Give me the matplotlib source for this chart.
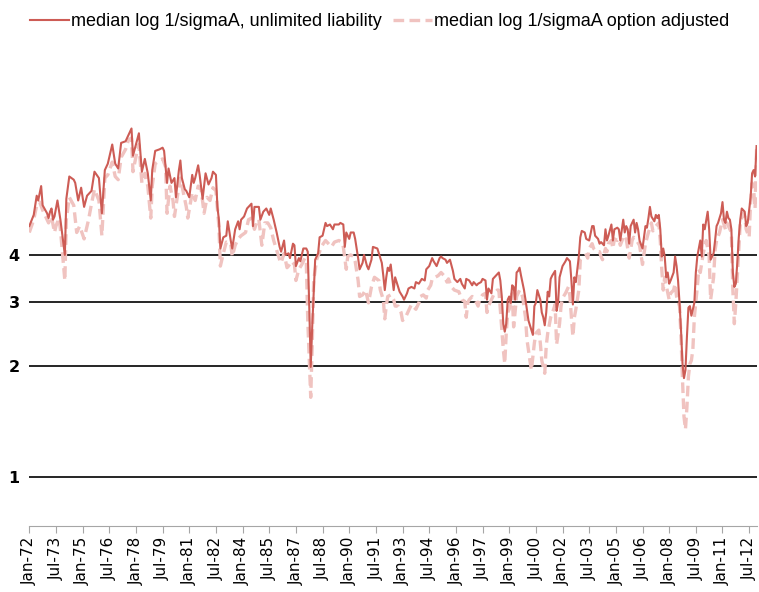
import numpy as np
import matplotlib
matplotlib.use("Agg")
import matplotlib.pyplot as plt
from matplotlib.lines import Line2D

# x tick labels (every 18 months starting Jan-1972)
tick_labels = ["Jan-72", "Jul-73", "Jan-75", "Jul-76", "Jan-78", "Jul-79", "Jan-81",
               "Jul-82", "Jan-84", "Jul-85", "Jan-87", "Jul-88", "Jan-90", "Jul-91",
               "Jan-93", "Jul-94", "Jan-96", "Jul-97", "Jan-99", "Jul-00", "Jan-02",
               "Jul-03", "Jan-05", "Jul-06", "Jan-08", "Jul-09", "Jan-11", "Jul-12"]
y_ticks = [1, 2, 3, 4]

# Series: month index since Jan-1972, natural log of plotted level
months_unl = [0, 3, 5, 6, 8, 9, 12, 13, 14, 15, 16, 17, 19, 21, 24, 25, 27, 30, 31, 33, 35, 37, 39,
              42, 44, 47, 49, 51, 53, 56, 58, 60, 62, 65, 67, 69, 70, 74, 76, 78, 80, 82, 83, 85, 88,
              90, 91, 93, 94, 96, 98, 99, 101, 102, 103, 105, 106, 108, 110, 111, 112, 114, 115, 117,
              118, 119, 121, 123, 124, 126, 127, 128, 129, 131, 133, 134, 136, 137, 139, 141, 142, 143,
              145, 147, 148, 150, 151, 152, 155, 156, 158, 159, 160, 162, 163, 165, 167, 169, 170, 172,
              173, 175, 176, 178, 179, 180, 182, 183, 185, 187, 188, 189, 190, 191, 192, 193, 195, 196,
              198, 200, 201, 203, 205, 206, 209, 210, 212, 213, 214, 216, 217, 219, 220, 222, 223, 225,
              226, 228, 229, 231, 232, 235, 236, 238, 239, 240, 241, 242, 243, 244, 246, 247, 249, 250,
              252, 253, 255, 256, 258, 260, 261, 263, 265, 267, 268, 270, 272, 273, 275, 277, 278, 279,
              281, 282, 284, 286, 287, 289, 291, 292, 294, 295, 297, 299, 300, 302, 303, 305, 306, 308,
              309, 310, 312, 313, 315, 317, 318, 319, 320, 321, 322, 323, 324, 325, 326, 327, 328, 329,
              330, 331, 332, 334, 335, 337, 339, 340, 341, 342, 343, 345, 346, 347, 348, 349, 350, 351,
              352, 353, 355, 356, 357, 358, 360, 362, 363, 365, 366, 367, 368, 369, 371, 372, 373, 375,
              376, 378, 380, 381, 382, 384, 385, 386, 388, 389, 390, 391, 393, 394, 395, 397, 398, 399,
              401, 402, 403, 404, 405, 406, 408, 409, 410, 411, 412, 414, 415, 416, 417, 418, 419, 420,
              422, 423, 424, 425, 426, 427, 428, 429, 430, 431, 432, 433, 435, 436, 437, 438, 439, 440,
              441, 442, 443, 444, 445, 446, 447, 449, 450, 451, 453, 454, 455, 456, 458, 459, 460, 462,
              463, 464, 465, 467, 468, 469, 470, 471, 472, 473, 474, 475, 476, 477, 478, 479, 480, 481,
              483, 484, 485, 487, 488, 489, 490, 491]
log_unl = [1.57, 1.64, 1.76, 1.73, 1.82, 1.70, 1.65, 1.62, 1.66, 1.68, 1.61, 1.63, 1.73, 1.61, 1.39,
           1.74, 1.88, 1.86, 1.84, 1.73, 1.81, 1.69, 1.76, 1.79, 1.91, 1.87, 1.65, 1.92, 1.96, 2.08,
           1.96, 1.93, 2.09, 2.10, 2.14, 2.18, 2.01, 2.15, 1.91, 1.99, 1.90, 1.73, 1.92, 2.04, 2.05,
           2.06, 2.04, 1.84, 1.93, 1.84, 1.87, 1.75, 1.92, 1.98, 1.87, 1.80, 1.79, 1.75, 1.89, 1.84,
           1.87, 1.95, 1.89, 1.74, 1.82, 1.90, 1.83, 1.87, 1.91, 1.89, 1.69, 1.61, 1.43, 1.50, 1.51,
           1.60, 1.48, 1.43, 1.55, 1.60, 1.55, 1.61, 1.63, 1.68, 1.69, 1.71, 1.57, 1.69, 1.69, 1.61,
           1.66, 1.67, 1.68, 1.64, 1.68, 1.61, 1.53, 1.44, 1.41, 1.48, 1.39, 1.40, 1.37, 1.46, 1.45,
           1.32, 1.37, 1.35, 1.43, 1.43, 1.41, 1.07, 0.69, 0.94, 1.15, 1.36, 1.40, 1.50, 1.51, 1.59,
           1.57, 1.58, 1.55, 1.58, 1.58, 1.59, 1.58, 1.44, 1.53, 1.49, 1.53, 1.53, 1.49, 1.37, 1.30,
           1.34, 1.39, 1.32, 1.30, 1.36, 1.44, 1.43, 1.40, 1.34, 1.26, 1.17, 1.25, 1.31, 1.29, 1.33,
           1.17, 1.25, 1.19, 1.16, 1.13, 1.11, 1.15, 1.18, 1.19, 1.18, 1.22, 1.21, 1.24, 1.23, 1.30,
           1.32, 1.37, 1.35, 1.32, 1.37, 1.38, 1.37, 1.36, 1.34, 1.36, 1.29, 1.24, 1.22, 1.24, 1.21,
           1.18, 1.24, 1.23, 1.20, 1.22, 1.20, 1.21, 1.22, 1.24, 1.23, 1.11, 1.18, 1.15, 1.24, 1.26,
           1.28, 1.23, 1.13, 0.96, 0.91, 0.96, 1.11, 1.13, 1.09, 1.20, 1.19, 1.11, 1.28, 1.29, 1.31,
           1.26, 1.17, 1.11, 0.98, 0.92, 0.89, 1.07, 1.09, 1.17, 1.11, 1.03, 1.00, 0.95, 1.03, 1.16,
           1.13, 1.24, 1.26, 1.29, 1.04, 1.09, 1.25, 1.32, 1.35, 1.37, 1.35, 1.23, 1.08, 1.25, 1.22,
           1.38, 1.50, 1.54, 1.53, 1.49, 1.48, 1.57, 1.57, 1.51, 1.49, 1.46, 1.47, 1.45, 1.55, 1.48,
           1.51, 1.58, 1.48, 1.55, 1.56, 1.55, 1.48, 1.61, 1.53, 1.57, 1.55, 1.46, 1.57, 1.61, 1.53,
           1.59, 1.55, 1.48, 1.43, 1.50, 1.57, 1.56, 1.62, 1.69, 1.63, 1.60, 1.64, 1.62, 1.64, 1.55,
           1.38, 1.43, 1.38, 1.25, 1.28, 1.21, 1.23, 1.28, 1.38, 1.32, 1.23, 1.09, 0.92, 0.71, 0.62,
           0.67, 0.88, 1.06, 1.07, 1.01, 1.09, 1.28, 1.38, 1.48, 1.38, 1.58, 1.55, 1.66, 1.55, 1.36,
           1.40, 1.48, 1.57, 1.59, 1.65, 1.72, 1.61, 1.59, 1.66, 1.62, 1.61, 1.55, 1.28, 1.19, 1.21,
           1.34, 1.50, 1.61, 1.68, 1.66, 1.57, 1.59, 1.75, 1.90, 1.92, 1.88, 2.07]

months_adj = [0, 3, 5, 7, 9, 12, 13, 15, 17, 18, 20, 21, 24, 25, 27, 30, 32, 34, 37, 40, 42, 44, 47,
              49, 51, 53, 56, 58, 60, 62, 65, 67, 69, 70, 73, 74, 76, 78, 80, 82, 83, 85, 88, 90, 92,
              93, 95, 97, 98, 101, 102, 104, 106, 107, 110, 112, 114, 116, 118, 120, 122, 124, 126,
              128, 129, 131, 133, 136, 137, 139, 141, 143, 146, 148, 150, 152, 154, 155, 157, 159, 161,
              163, 165, 167, 169, 170, 172, 174, 175, 177, 179, 180, 182, 184, 186, 187, 188, 190, 191,
              192, 194, 196, 197, 200, 202, 204, 206, 209, 211, 212, 214, 215, 217, 219, 220, 222, 223,
              225, 227, 228, 229, 231, 233, 236, 237, 239, 240, 241, 242, 244, 246, 247, 249, 251, 252,
              254, 256, 258, 259, 261, 263, 264, 266, 268, 269, 271, 272, 274, 276, 278, 280, 282, 283,
              285, 287, 290, 292, 294, 295, 296, 297, 299, 301, 303, 304, 306, 308, 309, 310, 312, 314,
              316, 317, 318, 320, 321, 322, 323, 324, 326, 327, 329, 331, 333, 335, 336, 338, 339, 341,
              342, 344, 345, 346, 348, 349, 350, 352, 354, 355, 356, 358, 359, 360, 362, 364, 365, 366,
              367, 368, 369, 371, 372, 374, 376, 377, 378, 380, 381, 383, 385, 386, 387, 389, 390, 391,
              393, 394, 395, 397, 398, 399, 401, 402, 403, 405, 407, 408, 410, 412, 413, 414, 416, 418,
              420, 421, 423, 425, 426, 427, 428, 429, 430, 432, 433, 435, 436, 437, 439, 440, 441, 442,
              443, 444, 445, 446, 447, 448, 449, 451, 452, 453, 455, 456, 457, 459, 460, 462, 463, 464,
              466, 467, 468, 470, 471, 472, 474, 475, 476, 477, 478, 479, 480, 482, 483, 484, 486, 487,
              488, 489, 490, 491]
log_adj = [1.53, 1.61, 1.70, 1.72, 1.67, 1.61, 1.59, 1.63, 1.53, 1.57, 1.62, 1.55, 1.23, 1.61, 1.75,
           1.70, 1.53, 1.57, 1.49, 1.61, 1.71, 1.80, 1.73, 1.51, 1.87, 1.89, 1.97, 1.88, 1.86, 2.00,
           2.05, 2.11, 2.12, 1.91, 2.05, 2.08, 1.84, 1.90, 1.82, 1.62, 1.82, 1.96, 1.98, 1.99, 1.94,
           1.65, 1.82, 1.73, 1.63, 1.82, 1.87, 1.78, 1.69, 1.62, 1.78, 1.73, 1.82, 1.80, 1.65, 1.75,
           1.73, 1.81, 1.79, 1.57, 1.32, 1.40, 1.47, 1.46, 1.38, 1.45, 1.49, 1.51, 1.53, 1.61, 1.62,
           1.55, 1.61, 1.61, 1.45, 1.59, 1.59, 1.56, 1.48, 1.42, 1.36, 1.34, 1.40, 1.31, 1.32, 1.35,
           1.33, 1.23, 1.30, 1.33, 1.37, 1.35, 0.98, 0.50, 0.82, 1.23, 1.36, 1.41, 1.44, 1.48, 1.46,
           1.44, 1.47, 1.48, 1.47, 1.44, 1.30, 1.38, 1.39, 1.38, 1.35, 1.23, 1.13, 1.14, 1.17, 1.13,
           1.09, 1.19, 1.25, 1.23, 1.17, 1.11, 0.99, 1.07, 1.13, 1.14, 1.11, 1.07, 1.07, 1.03, 0.98,
           1.00, 1.04, 1.08, 1.07, 1.05, 1.09, 1.13, 1.14, 1.12, 1.17, 1.20, 1.24, 1.25, 1.26, 1.28,
           1.26, 1.22, 1.24, 1.19, 1.17, 1.16, 1.11, 1.10, 1.00, 1.09, 1.11, 1.13, 1.11, 1.07, 1.11,
           1.14, 1.15, 1.03, 1.07, 1.11, 1.15, 1.17, 1.17, 1.05, 0.80, 0.71, 0.90, 1.03, 1.05, 1.15,
           0.94, 1.13, 1.17, 1.13, 1.00, 0.86, 0.73, 0.67, 0.84, 0.90, 0.92, 0.84, 0.73, 0.65, 0.82,
           0.90, 1.00, 1.05, 1.08, 0.83, 0.96, 1.07, 1.12, 1.15, 1.19, 1.13, 1.00, 0.88, 1.00, 1.05,
           1.17, 1.36, 1.38, 1.39, 1.37, 1.43, 1.46, 1.43, 1.41, 1.41, 1.38, 1.36, 1.43, 1.41, 1.46,
           1.48, 1.43, 1.49, 1.48, 1.49, 1.45, 1.50, 1.48, 1.49, 1.37, 1.48, 1.50, 1.48, 1.45, 1.39,
           1.33, 1.46, 1.53, 1.59, 1.54, 1.57, 1.59, 1.48, 1.30, 1.17, 1.25, 1.20, 1.11, 1.15, 1.17,
           1.21, 1.13, 1.07, 0.88, 0.61, 0.38, 0.30, 0.44, 0.63, 0.71, 0.73, 0.80, 1.00, 1.19, 1.30,
           1.28, 1.40, 1.44, 1.48, 1.38, 1.11, 1.25, 1.42, 1.48, 1.53, 1.57, 1.61, 1.55, 1.59, 1.57,
           1.53, 1.17, 0.96, 1.09, 1.25, 1.42, 1.59, 1.65, 1.63, 1.55, 1.50, 1.73, 1.84, 1.80, 1.68,
           2.05]

label_unl = "median log 1/sigmaA, unlimited liability"
label_adj = "median log 1/sigmaA option adjusted"

color_unl = "#CD5C55"
color_adj = "#F0C3C0"

fig = plt.figure(figsize=(7.59, 5.92), dpi=100)
ax = fig.add_axes([29.3 / 759, (592 - 525.7) / 592, (757 - 29.3) / 759, (525.7 - 79.7) / 592])

ax.set_yscale("log")
ax.set_ylim(0.739, 12)
ax.set_xlim(0, 491.3)

for yv in y_ticks:
    ax.axhline(yv, color="black", lw=1.2, zorder=1)

ax.plot(months_adj, np.exp(log_adj), color=color_adj, lw=2.4, dashes=(3.2, 1.6), zorder=2)
ax.plot(months_unl, np.exp(log_unl), color=color_unl, lw=1.5, zorder=3)

ax.set_yticks(y_ticks)
ax.set_yticklabels([str(v) for v in y_ticks], fontsize=11.5, fontweight="bold")
ax.yaxis.set_minor_locator(matplotlib.ticker.NullLocator())
ax.tick_params(axis="y", length=0, pad=7)

ax.set_xticks(np.arange(len(tick_labels)) * 18)
ax.set_xticklabels(tick_labels, rotation=90, fontsize=11)
ax.tick_params(axis="x", length=5, color="#A6A6A6", pad=3)

for s in ["top", "right", "left"]:
    ax.spines[s].set_visible(False)
ax.spines["bottom"].set_color("#A6A6A6")

handles = [Line2D([], [], color=color_unl, lw=1.5),
           Line2D([], [], color=color_adj, lw=2.4, dashes=(3.2, 1.6))]
fig.legend(handles, [label_unl, label_adj], loc="center", bbox_to_anchor=(0.5, 1 - 22 / 592),
           ncol=2, frameon=False, fontsize=13, handlelength=2.2, handletextpad=0.1,
           columnspacing=0.6, prop={"family": "Liberation Sans", "size": 13})

fig.savefig("out.png", dpi=100)
